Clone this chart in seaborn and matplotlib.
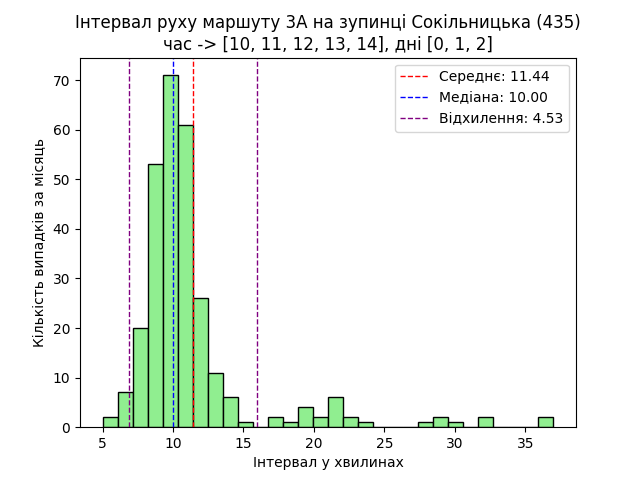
import numpy as np
import pandas as pd
import matplotlib
matplotlib.use("Agg")
import matplotlib.pyplot as plt
import seaborn as sns

# Data
bin_start = 5.0
bin_end = 37.0
counts = [2, 7, 20, 53, 71, 61, 26, 11, 6, 1,
          0, 2, 1, 4, 2, 6, 2, 1, 0, 0,
          0, 1, 2, 1, 0, 2, 0, 0, 0, 2]
mean_val = 11.44
median_val = 10.00
std_val = 4.53

n_bins = len(counts)
edges = np.linspace(bin_start, bin_end, n_bins + 1)
centers = (edges[:-1] + edges[1:]) / 2
df = pd.DataFrame({"interval": centers, "count": counts})

fig, ax = plt.subplots(figsize=(6.4, 4.8), dpi=100)
sns.histplot(data=df, x="interval", weights="count", bins=n_bins,
             binrange=(bin_start, bin_end), color="lightgreen",
             edgecolor="black", alpha=1.0, linewidth=1, ax=ax)

ax.axvline(mean_val, color="red", linestyle="--", linewidth=1,
           label=f"Середнє: {mean_val:.2f}")
ax.axvline(median_val, color="blue", linestyle="--", linewidth=1,
           label=f"Медіана: {median_val:.2f}")
ax.axvline(mean_val - std_val, color="purple", linestyle="--", linewidth=1,
           label=f"Відхилення: {std_val:.2f}")
ax.axvline(mean_val + std_val, color="purple", linestyle="--", linewidth=1)

ax.set_title("Інтервал руху маршуту 3А на зупинці Сокільницька (435)\n"
             "час -> [10, 11, 12, 13, 14], дні [0, 1, 2]")
ax.set_xlabel("Інтервал у хвилинах")
ax.set_ylabel("Кількість випадків за місяць")
ax.legend(loc="upper right")

fig.savefig("out.png", dpi=100)
